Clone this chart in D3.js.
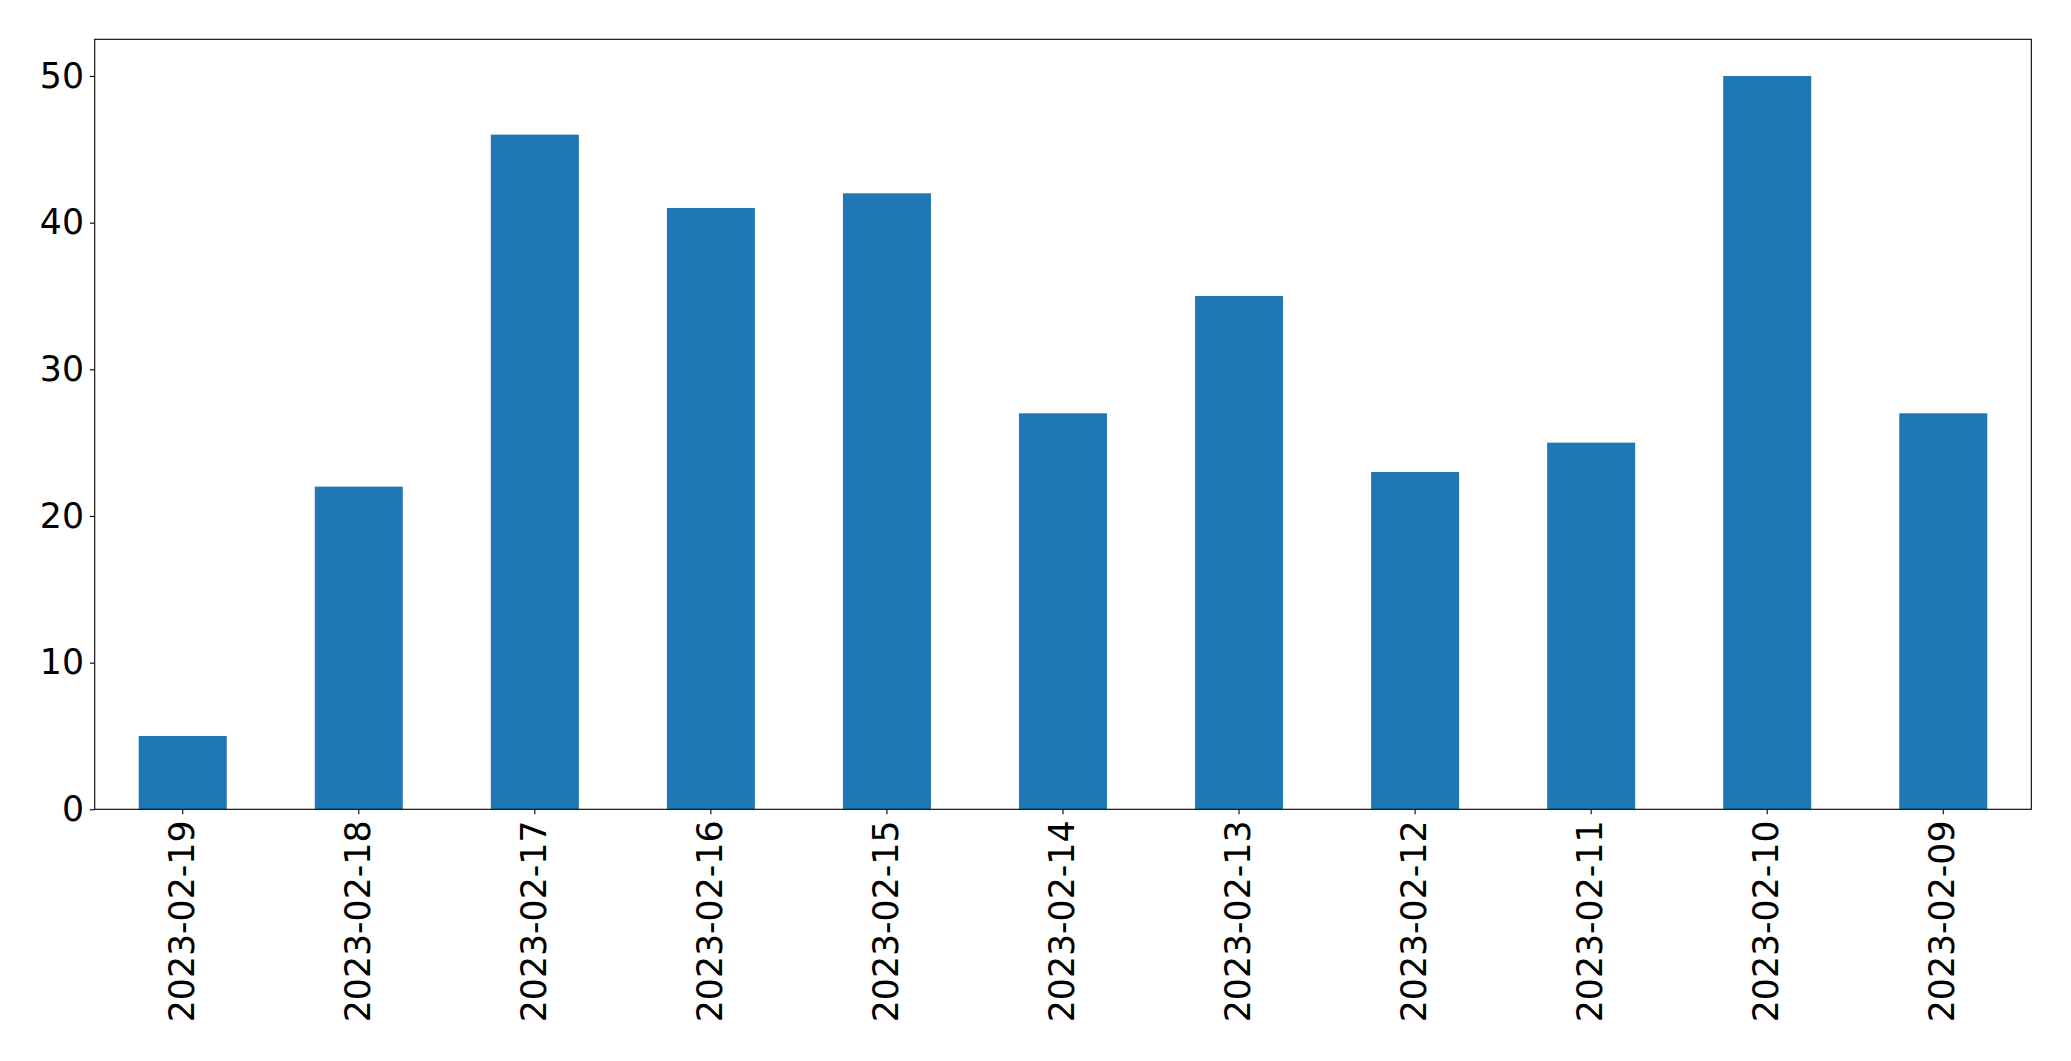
<!DOCTYPE html>
<html>
<head>
<meta charset="utf-8">
<script src="https://cdn.jsdelivr.net/npm/d3@7"></script>
<style>
  html, body { margin: 0; padding: 0; background: #fff; }
  svg { display: block; }
  text { font-family: "DejaVu Sans", sans-serif; }
</style>
</head>
<body>
<script>
const categories = ["2023-02-19","2023-02-18","2023-02-17","2023-02-16","2023-02-15","2023-02-14","2023-02-13","2023-02-12","2023-02-11","2023-02-10","2023-02-09"];
const values = [5, 22, 46, 41, 42, 27, 35, 23, 25, 50, 27];
const yTicks = [0, 10, 20, 30, 40, 50];

const W = 2071, H = 1061;
const margin = { left: 94.7, right: W - 2031.3, top: 39.3, bottom: H - 809.3 };
const iw = W - margin.left - margin.right;
const ih = H - margin.top - margin.bottom;

const svg = d3.select("body").append("svg").attr("width", W).attr("height", H);
const g = svg.append("g").attr("transform", `translate(${margin.left},${margin.top})`);

const x = d3.scaleBand().domain(categories).range([0, iw]).paddingInner(0.5).paddingOuter(0.25);
const y = d3.scaleLinear().domain([0, 52.5]).range([ih, 0]);

g.selectAll("rect.bar").data(values).enter().append("rect")
  .attr("class", "bar")
  .attr("x", (d, i) => x(categories[i]))
  .attr("width", x.bandwidth())
  .attr("y", d => y(d))
  .attr("height", d => y(0) - y(d))
  .attr("fill", "#1f77b4");

const fs = 34.72;
const tickLen = 4.86, pad = 4.86;

const yAxis = g.append("g").call(d3.axisLeft(y).tickValues(yTicks).tickSize(tickLen).tickPadding(pad + 1));
yAxis.select(".domain").remove();
yAxis.selectAll(".tick line").attr("stroke", "#000").attr("stroke-width", 1.1);
yAxis.selectAll(".tick text").attr("font-size", fs).attr("fill", "#000").attr("font-family", "DejaVu Sans");

const xAxis = g.append("g").attr("transform", `translate(0,${ih})`)
  .call(d3.axisBottom(x).tickSize(tickLen).tickPadding(0));
xAxis.select(".domain").remove();
xAxis.selectAll(".tick line").attr("stroke", "#000").attr("stroke-width", 1.1);
xAxis.selectAll(".tick text")
  .attr("font-size", fs).attr("fill", "#000").attr("font-family", "DejaVu Sans")
  .attr("text-anchor", "end")
  .attr("transform", `translate(0,${tickLen + pad + 1.5}) rotate(-90)`)
  .attr("x", 0).attr("y", 0)
  .attr("dy", "0.32em");

g.append("rect").attr("x", 0).attr("y", 0).attr("width", iw).attr("height", ih)
  .attr("fill", "none").attr("stroke", "#000").attr("stroke-width", 1.1);
</script>
</body>
</html>
